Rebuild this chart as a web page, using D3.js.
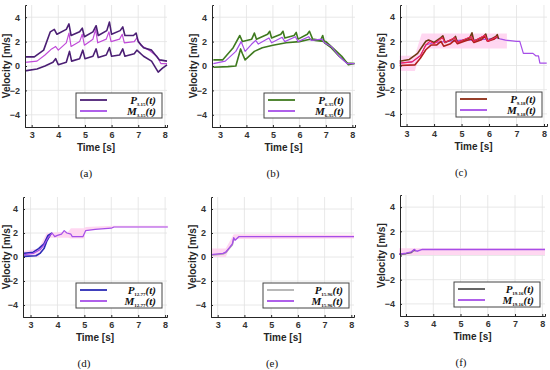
<!DOCTYPE html>
<html>
<head>
<meta charset="utf-8">
<script src="https://cdn.jsdelivr.net/npm/d3@7"></script>
<style>
  body { margin: 0; background: #fff; }
  svg { display: block; }
  .tick text { font-family: "Liberation Sans", Arial, sans-serif; font-weight: bold; font-size: 9px; fill: #333; }
  .lbl { font-family: "Liberation Sans", Arial, sans-serif; font-weight: bold; font-size: 10px; fill: #262626; }
  .cap { font-family: "Liberation Serif", "Times New Roman", serif; font-size: 11px; fill: #111; }
  .leg { font-family: "Liberation Serif", "DejaVu Serif", serif; font-weight: bold; font-style: italic; font-size: 11px; fill: #111; }
</style>
</head>
<body>
<svg id="chart" width="550" height="370"></svg>
<script>
// tick labels
const xTicks = [3, 4, 5, 6, 7, 8];
const yTicks = [-4, -2, 0, 2, 4];
const captions = ['(a)', '(b)', '(c)', '(d)', '(e)', '(f)'];
const subscripts = ['3.15', '6.35', '9.18', '12.77', '15.96', '19.16'];

// (a)
const tAUp = [2.75,3.1,3.45,3.7,3.85,3.95,4.3,4.4,4.48,4.8,4.9,4.98,5.3,5.42,5.5,5.82,5.92,6.0,6.32,6.42,6.5,6.82,6.92,7.0,7.2,7.5,7.8,8.08];
const vAUp = [0.75,0.75,1.3,2.8,3.0,2.6,3.0,3.45,2.5,2.8,3.1,2.4,2.8,3.3,2.5,2.9,3.6,2.6,2.9,3.2,2.5,2.5,2.7,2.0,1.5,1.3,0.5,0.4];
const tAM = [2.75,3.2,3.5,3.75,3.9,4.0,4.3,4.4,4.48,4.8,4.9,4.98,5.3,5.4,5.48,5.8,5.9,5.98,6.3,6.4,6.48,6.85,6.95,7.1,7.4,7.7,7.85,8.08];
const vAM = [0.3,0.4,0.9,1.4,1.6,1.3,1.9,2.7,1.6,2.0,2.6,1.7,2.2,3.0,1.9,2.2,2.8,2.0,2.2,2.6,1.9,2.0,2.3,1.7,1.3,0.8,0.2,0.2];
const tALo = [2.75,3.2,3.5,3.8,3.9,4.0,4.3,4.42,4.5,4.8,4.92,5.0,5.3,5.42,5.5,5.8,5.92,6.0,6.3,6.42,6.5,6.85,6.95,7.2,7.5,7.75,7.9,8.08];
const vALo = [-0.4,-0.25,0,0.3,0.6,0.1,0.3,1.2,0.4,0.6,1.3,0.6,0.8,1.4,0.7,0.9,1.5,0.8,0.9,1.4,0.8,1.0,1.3,0.8,0.4,-0.5,-0.2,0.1];

// (b)
const tBUp = [2.75,3.1,3.5,3.75,3.85,4.2,4.3,4.38,4.8,4.88,4.95,5.3,5.38,5.45,5.8,5.88,5.95,6.3,6.38,6.5,6.8,6.88,6.95,7.2,7.5,7.8,8.08];
const vBUp = [0.5,0.5,1.5,2.5,2.0,2.2,2.7,2.2,2.6,2.85,2.3,2.6,2.85,2.3,2.5,2.75,2.2,2.6,2.85,2.2,2.1,2.5,1.9,1.5,0.8,0.25,0.2];
const tBLo = [2.75,3.3,3.6,3.78,3.85,3.95,4.3,4.6,5.0,5.5,6.0,6.4,6.6,7.0,7.3,7.6,7.85,8.08];
const vBLo = [-0.1,-0.05,0.0,1.4,1.0,0.5,1.2,1.5,1.7,1.9,2.0,2.2,2.1,2.0,1.4,0.8,0.1,0.2];
const tBM = [2.75,3.2,3.6,3.8,3.95,4.2,4.35,4.45,4.85,4.95,5.35,5.45,5.85,5.95,6.35,6.45,6.85,6.95,7.2,7.5,7.8,8.08];
const vBM = [0.2,0.4,1.2,2.0,1.2,1.8,2.1,1.8,2.3,1.9,2.35,2.0,2.4,2.0,2.4,2.1,2.2,1.9,1.6,0.8,0.2,0.2];

// (c)
const tCUp = [2.75,3.1,3.4,3.7,3.8,4.0,4.25,4.32,4.4,4.7,4.78,4.85,5.3,5.38,5.45,5.8,5.88,5.95,6.25,6.3,6.35];
const vCUp = [0.35,0.5,1.0,2.0,2.1,1.9,2.3,2.45,1.9,2.2,2.4,1.9,2.3,2.7,2.0,2.4,2.6,2.0,2.4,2.55,2.2];
const tCLo = [2.75,3.3,3.5,3.7,3.9,4.1,4.25,4.35,4.6,4.75,4.85,5.1,5.35,5.45,5.7,5.85,5.95,6.2,6.3];
const vCLo = [0.0,0.05,0.6,1.3,1.7,1.7,2.0,1.6,1.8,2.1,1.8,2.0,2.2,1.9,2.1,2.4,2.0,2.2,2.4];
const tCR = [2.75,3.2,3.5,3.7,3.85,4.0,4.3,4.4,4.75,4.85,5.35,5.45,5.85,5.95,6.3];
const vCR = [0.2,0.3,0.8,1.7,2.0,1.8,2.3,1.9,2.3,1.9,2.4,2.0,2.5,2.0,2.4];
const tCM = [2.75,3.2,3.5,3.7,4.0,4.5,5.0,5.5,6.0,6.3,6.4,6.6,7.0,7.12,7.25,7.6,7.7,7.8,7.85,8.1];
const vCM = [0.2,0.3,0.8,1.7,1.9,2.0,2.1,2.1,2.2,2.3,2.2,2.1,2.0,2.0,1.0,1.0,0.8,0.8,0.2,0.2];
const tCB = [2.75,3.3,3.55,6.65];
const loCB = [-0.45,-0.45,1.4,1.4];
const hiCB = [0.8,0.8,2.65,2.65];

// (d)
const tDM = [2.75,3.1,3.35,3.5,3.65,3.8,3.9,4.0,4.15,4.25,4.35,4.5,4.55,4.95,5.05,5.4,6.0,6.1,8.1];
const vDM = [0.2,0.3,0.6,1.0,1.6,2.0,1.7,1.8,1.9,2.2,2.0,1.9,1.7,1.7,2.2,2.3,2.4,2.5,2.5];
const tDUp = [2.75,3.1,3.3,3.5,3.65,3.8];
const vDUp = [0.3,0.4,0.7,1.1,1.8,2.0];
const tDLo = [2.75,3.2,3.35,3.5,3.6,3.75];
const vDLo = [0.05,0.1,0.3,0.7,1.3,1.9];
const tDB = [2.75,3.3,3.6,4.4,4.5,5.0,5.05,6.1,8.1];
const loDB = [0,0,1.6,1.6,1.55,1.55,2.2,2.45,2.45];
const hiDB = [0.5,0.7,2.0,2.1,2.4,2.4,2.5,2.6,2.6];

// (e)
const tEM = [2.75,3.2,3.3,3.45,3.55,3.6,3.65,3.75,3.8,8.1];
const vEM = [0.2,0.3,0.4,0.8,1.1,1.6,1.4,1.6,1.7,1.7];
const tEP = [2.75,3.2,3.3,3.45,3.55,3.6];
const vEP = [0.15,0.25,0.35,0.75,1.0,1.5];
const tEB = [2.75,3.3,3.6,8.1];
const loEB = [0,0,1.5,1.55];
const hiEB = [0.7,0.7,1.9,1.85];

// (f)
const tFM = [2.75,3.0,3.2,3.3,3.4,3.6,8.1];
const vFM = [0.1,0.2,0.3,0.5,0.35,0.5,0.5];
const tFP = [2.75,3.0,3.2,3.3,3.35];
const vFP = [0.1,0.15,0.25,0.45,0.35];
const tFB = [2.75,8.1];
const loFB = [0.05,0.05];
const hiFB = [0.6,0.6];

const violet = '#a64ee8';
const zip = (t, v) => t.map((d, i) => [d, v[i]]);
const zipBand = (t, lo, hi) => t.map((d, i) => [d, lo[i], hi[i]]);

const panels = [
  { x0: 25, x1: 167, y0: 5, y1: 127, dom: [2.75, 8.08], pColor: '#4b1f74',
    bands: [],
    lines: [
      { pts: zip(tAM, vAM), color: '#c04ad8', w: 1.2 },
      { pts: zip(tAUp, vAUp), color: '#4b1f74', w: 1.6 },
      { pts: zip(tALo, vALo), color: '#4b1f74', w: 1.6 }
    ] },
  { x0: 212, x1: 355, y0: 5, y1: 127, dom: [2.7, 8.1], pColor: '#3f7a1f',
    bands: [],
    lines: [
      { pts: zip(tBUp, vBUp), color: '#3f7a1f', w: 1.6 },
      { pts: zip(tBLo, vBLo), color: '#3f7a1f', w: 1.6 },
      { pts: zip(tBM, vBM), color: violet, w: 1.2 }
    ] },
  { x0: 400, x1: 547, y0: 5, y1: 126, dom: [2.76, 8.11], pColor: '#8c2a12',
    bands: [zipBand(tCB, loCB, hiCB)],
    lines: [
      { pts: zip(tCM, vCM), color: violet, w: 1.2 },
      { pts: zip(tCUp, vCUp), color: '#6e3a12', w: 1.6 },
      { pts: zip(tCLo, vCLo), color: '#b0201c', w: 1.6 },
      { pts: zip(tCR, vCR), color: '#f0245a', w: 1.2 }
    ] },
  { x0: 23, x1: 167, y0: 197, y1: 317, dom: [2.72, 8.07], pColor: '#2b2bb5',
    bands: [zipBand(tDB, loDB, hiDB)],
    lines: [
      { pts: zip(tDUp, vDUp), color: '#2b2bb5', w: 1.6 },
      { pts: zip(tDLo, vDLo), color: '#2b2bb5', w: 1.6 },
      { pts: zip(tDM, vDM), color: violet, w: 1.2 }
    ] },
  { x0: 211, x1: 354, y0: 197, y1: 317, dom: [2.75, 8.1], pColor: '#b0b0b0',
    bands: [zipBand(tEB, loEB, hiEB)],
    lines: [
      { pts: zip(tEP, vEP), color: '#b0b0b0', w: 1.4 },
      { pts: zip(tEM, vEM), color: violet, w: 1.4 }
    ] },
  { x0: 400, x1: 545, y0: 195, y1: 316, dom: [2.78, 8.1], pColor: '#555555',
    bands: [zipBand(tFB, loFB, hiFB)],
    lines: [
      { pts: zip(tFP, vFP), color: '#555555', w: 1.4 },
      { pts: zip(tFM, vFM), color: violet, w: 1.4 }
    ] }
];

const svg = d3.select('#chart');

panels.forEach((p, i) => {
  const x = d3.scaleLinear().domain(p.dom).range([p.x0, p.x1]);
  const y = d3.scaleLinear().domain([-5, 5]).range([p.y1, p.y0]);
  const g = svg.append('g');

  // grid
  g.selectAll('.gx').data(xTicks).enter().append('line')
    .attr('x1', d => x(d)).attr('x2', d => x(d))
    .attr('y1', p.y0).attr('y2', p.y1)
    .attr('stroke', '#e2e2e2').attr('stroke-width', 0.8);
  g.selectAll('.gy').data(yTicks).enter().append('line')
    .attr('x1', p.x0).attr('x2', p.x1)
    .attr('y1', d => y(d)).attr('y2', d => y(d))
    .attr('stroke', '#e2e2e2').attr('stroke-width', 0.8);

  // bands
  const area = d3.area().x(d => x(d[0])).y0(d => y(d[1])).y1(d => y(d[2]));
  p.bands.forEach(b => {
    g.append('path').attr('d', area(b)).attr('fill', '#ffd0ee').attr('opacity', 0.85);
  });

  // lines
  const line = d3.line().x(d => x(d[0])).y(d => y(d[1]));
  p.lines.forEach(l => {
    g.append('path').attr('d', line(l.pts))
      .attr('fill', 'none').attr('stroke', l.color)
      .attr('stroke-width', l.w).attr('stroke-linejoin', 'round');
  });

  // axes
  const xAxis = g.append('g').attr('transform', `translate(0,${p.y1})`)
    .call(d3.axisBottom(x).tickValues(xTicks).tickSize(-2).tickPadding(5).tickFormat(d3.format('d')));
  const yAxis = g.append('g').attr('transform', `translate(${p.x0},0)`)
    .call(d3.axisLeft(y).tickValues(yTicks).tickSize(-2).tickPadding(5)
      .tickFormat(d => d < 0 ? '\u2212' + Math.abs(d) : d));
  [xAxis, yAxis].forEach(a => {
    a.select('.domain').attr('stroke', '#262626').attr('stroke-width', 1);
    a.selectAll('.tick line').attr('stroke', '#262626');
  });

  // labels
  g.append('text').attr('class', 'lbl')
    .attr('x', (p.x0 + p.x1) / 2).attr('y', p.y1 + 24)
    .attr('text-anchor', 'middle').text('Time [s]');
  g.append('text').attr('class', 'lbl')
    .attr('transform', `translate(${Math.max(9.5, p.x0 - 15)},${(p.y0 + p.y1) / 2}) rotate(-90)`)
    .attr('text-anchor', 'middle').text('Velocity [m/s]');
  g.append('text').attr('class', 'cap')
    .attr('x', p.x0 + 61).attr('y', p.y1 + 50)
    .attr('text-anchor', 'middle').text(captions[i]);

  // legend
  const lw = 86, lh = 25;
  const lx = p.x1 - 5 - lw, ly = p.y1 - 9 - lh;
  const leg = g.append('g').attr('transform', `translate(${lx},${ly})`);
  leg.append('rect').attr('width', lw).attr('height', lh)
    .attr('fill', '#fff').attr('stroke', '#444').attr('stroke-width', 1);
  const rows = [{ s: 'P', c: p.pColor }, { s: 'M', c: violet }];
  rows.forEach((r, k) => {
    const yy = 7 + k * 11;
    leg.append('line').attr('x1', 4).attr('x2', 31).attr('y1', yy).attr('y2', yy)
      .attr('stroke', r.c).attr('stroke-width', 1.8);
    const t = leg.append('text').attr('class', 'leg')
      .attr('x', lw - 6).attr('y', yy + 4).attr('text-anchor', 'end');
    t.append('tspan').text(r.s);
    t.append('tspan').attr('font-size', '5px').attr('dy', 1.5).attr('font-style', 'normal').text(subscripts[i]);
    t.append('tspan').attr('dy', -1.5).text('(t)');
  });
});
</script>
</body>
</html>
